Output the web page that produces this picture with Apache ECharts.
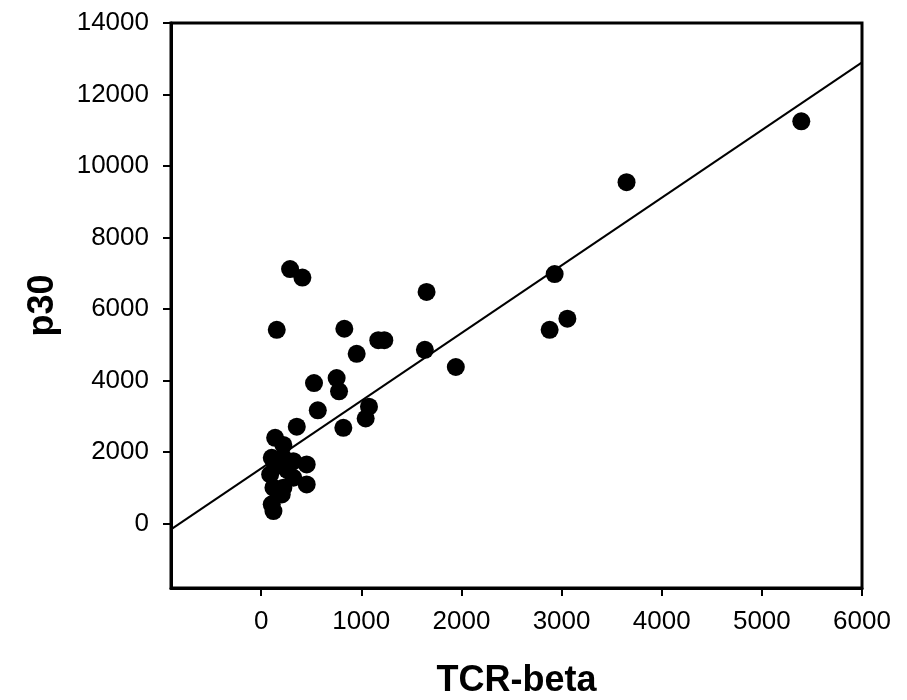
<!DOCTYPE html>
<html>
<head>
<meta charset="utf-8">
<script src="https://cdn.jsdelivr.net/npm/echarts@6/dist/echarts.min.js"></script>
<style>html,body{margin:0;padding:0;background:#fff;}#c{width:907px;height:700px;}</style>
</head>
<body>
<div id="c"></div>
<script>
const tcrBeta = [5394, 3649, 2931, 2881, 3058, 1944, 1652, 1635, 289, 412, 156, 831, 1170, 1230, 954, 528, 754, 778, 566, 356, 821, 1077, 1044, 140, 222, 106, 222, 322, 455, 455, 90, 322, 123, 222, 106, 123, 206, 140, 260];
const p30 = [11250, 9550, 6980, 5420, 5730, 4380, 6480, 4860, 7120, 6880, 5420, 5450, 5130, 5130, 4750, 3930, 4070, 3700, 3170, 2710, 2680, 3270, 2940, 2400, 2200, 1840, 1840, 1746, 1654, 1096, 1375, 1283, 1004, 1004, 540, 350, 817, 1600, 1500];
const fitX = [-900, 6000];
const fitY = [-160, 12900];
const xTicks = [0, 1000, 2000, 3000, 4000, 5000, 6000];
const yTicks = [0, 2000, 4000, 6000, 8000, 10000, 12000, 14000];

const chart = echarts.init(document.getElementById('c'), null, {renderer: 'canvas'});
const font = '"Liberation Sans", Arial, sans-serif';
chart.setOption({
  animation: false,
  backgroundColor: '#fff',
  grid: {left: 171, right: 45, top: 23, bottom: 112, show: true, borderColor: '#000', borderWidth: 3, backgroundColor: 'transparent', containLabel: false, outerBoundsMode: 'none'},
  xAxis: {
    type: 'value', min: -900, max: 6000,
    name: 'TCR-beta', nameLocation: 'middle', nameGap: 75, nameMoveOverlap: false,
    nameTextStyle: {fontFamily: font, fontSize: 36, fontWeight: 'bold', color: '#000'},
    axisLine: {show: true, onZero: false, lineStyle: {color: '#000', width: 3}},
    axisTick: {show: true, inside: false, length: 8, lineStyle: {color: '#000', width: 2}, customValues: xTicks},
    axisLabel: {fontFamily: font, fontSize: 26, color: '#000', margin: 21, customValues: xTicks, formatter: v => String(v)},
    splitLine: {show: false}
  },
  yAxis: {
    type: 'value', min: -1800, max: 14000,
    name: 'p30', nameLocation: 'middle', nameGap: 110, nameRotate: 90, nameMoveOverlap: false,
    nameTextStyle: {fontFamily: font, fontSize: 36, fontWeight: 'bold', color: '#000'},
    axisLine: {show: true, onZero: false, lineStyle: {color: '#000', width: 3}},
    axisTick: {show: true, inside: false, length: 8, lineStyle: {color: '#000', width: 2}, customValues: yTicks},
    axisLabel: {fontFamily: font, fontSize: 26, color: '#000', margin: 22, customValues: yTicks, formatter: v => String(v)},
    splitLine: {show: false}
  },
  series: [
    {
      type: 'line',
      data: fitX.map((x, i) => [x, fitY[i]]),
      showSymbol: false, symbol: 'none',
      lineStyle: {color: '#000', width: 2},
      z: 2
    },
    {
      type: 'scatter',
      data: tcrBeta.map((x, i) => [x, p30[i]]),
      symbol: 'circle', symbolSize: 18,
      itemStyle: {color: '#000', opacity: 1},
      z: 3
    }
  ]
});
</script>
</body>
</html>
